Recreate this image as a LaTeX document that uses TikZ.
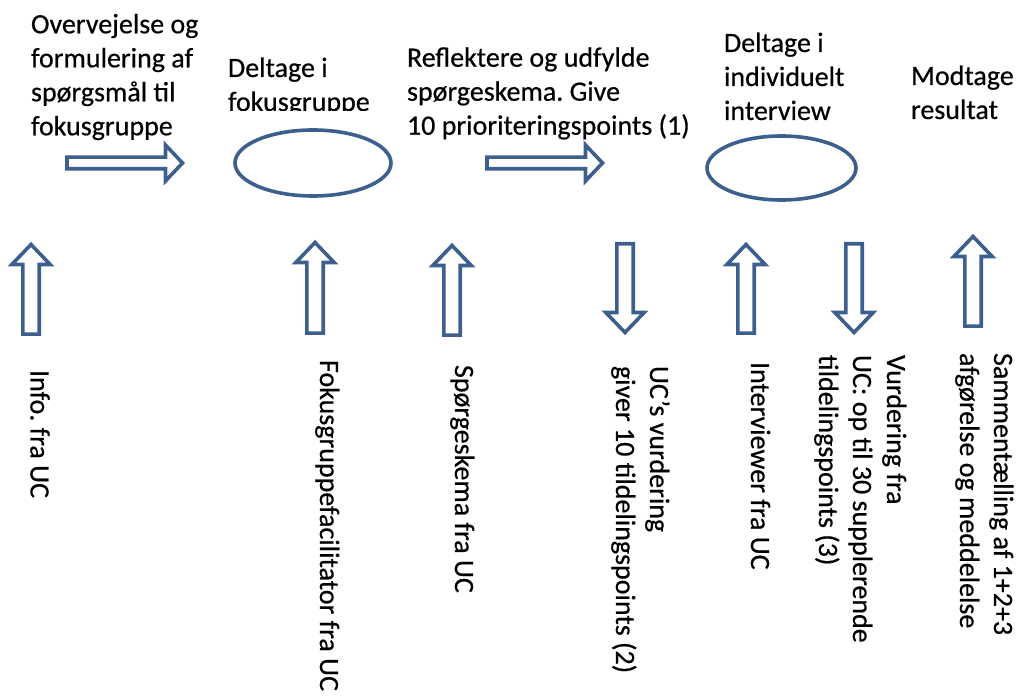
\documentclass[tikz,border=0pt]{standalone}
\usepackage{fontspec}
\setmainfont{Carlito}[FakeBold=0.5]
\usetikzlibrary{shapes.geometric}
\definecolor{arrowblue}{HTML}{3D5F8E}
\frenchspacing
\begin{document}
\begin{tikzpicture}[x=1pt,y=-1pt,
  txt/.style={font=\fontsize{28}{34}\selectfont\frenchspacing, text=black, inner sep=0pt, outer sep=0pt, anchor=north west, align=left},
  vtxt/.style={txt, rotate=-90},
  shapeline/.style={draw=arrowblue, line width=3.6pt, line join=miter},
  oval/.style={ellipse, shapeline, inner sep=0pt},
  pics/barrow/.style n args={4}{code={
    \draw[shapeline] (0,-#2) -- ({#1-#4},-#2) -- ({#1-#4},-#3) -- (#1,0)
      -- ({#1-#4},#3) -- ({#1-#4},#2) -- (0,#2) -- cycle;
  }}]
\useasboundingbox (0,0) rectangle (1020,700);

% top row texts
\node[txt] (t1) at (31,9.5) {\strut Overvejelse og\\formulering af\\spørgsmål til\\fokusgruppe};
\begin{scope}
  \clip (215,30) rectangle (420,111);
  \node[txt] (t2) at (228,53.2) {\strut Deltage i\\fokusgruppe};
\end{scope}
\node[txt] (t3) at (407,42.9) {\strut Reflektere og udfylde\\spørgeskema. Give\\10 prioriteringspoints (1)};
\node[txt] (t4) at (724,28.2) {\strut Deltage i\\individuelt\\interview};
\node[txt] (t5) at (911,61.2) {\strut Modtage\\resultat};

% top row shapes
\pic (h1) at (67,163) {barrow={115.5}{5.8}{18}{17}};
\node[oval, minimum width=156pt, minimum height=66pt] (e1) at (313,163) {};
\pic (h2) at (487,163) {barrow={115.5}{5.8}{18}{17}};
\node[oval, minimum width=149pt, minimum height=64pt] (e2) at (781.5,168) {};

% vertical arrows
\pic[rotate=90]  (v1) at (31,334.2)  {barrow={89.7}{8.2}{19.2}{20}};
\pic[rotate=90]  (v2) at (315,333.2) {barrow={90.7}{8.2}{19.2}{20}};
\pic[rotate=90]  (v3) at (452,335.2) {barrow={89.7}{8.2}{19.2}{20}};
\pic[rotate=-90] (v4) at (625,243.8) {barrow={88.7}{8.2}{19.2}{20}};
\pic[rotate=90]  (v5) at (746,333.2) {barrow={88.7}{8.2}{19.2}{20}};
\pic[rotate=-90] (v6) at (854,243.8) {barrow={88.7}{8.2}{19.2}{20}};
\pic[rotate=90]  (v7) at (973,326.2) {barrow={89.7}{8.2}{19.2}{20}};

% rotated texts
\node[vtxt] (r1) at (54.3,370) {\strut Info. fra UC};
\node[vtxt] (r2) at (343.8,360) {\strut Fokusgruppefacilitator fra UC};
\node[vtxt] (r3) at (478.8,365) {\strut Spørgeskema fra UC};
\node[vtxt] (r4) at (673.8,366) {\strut UC’s vurdering\\giver 10 tildelingspoints (2)};
\node[vtxt] (r5) at (774.8,362) {\strut Interviewer fra UC};
\node[vtxt] (r6) at (910.8,355) {\strut Vurdering fra\\UC: op til 30 supplerende\\tildelingspoints (3)};
\node[vtxt] (r7) at (1017.8,353) {\strut Sammentælling af 1+2+3\\afgørelse og meddelelse};
\end{tikzpicture}
\end{document}
